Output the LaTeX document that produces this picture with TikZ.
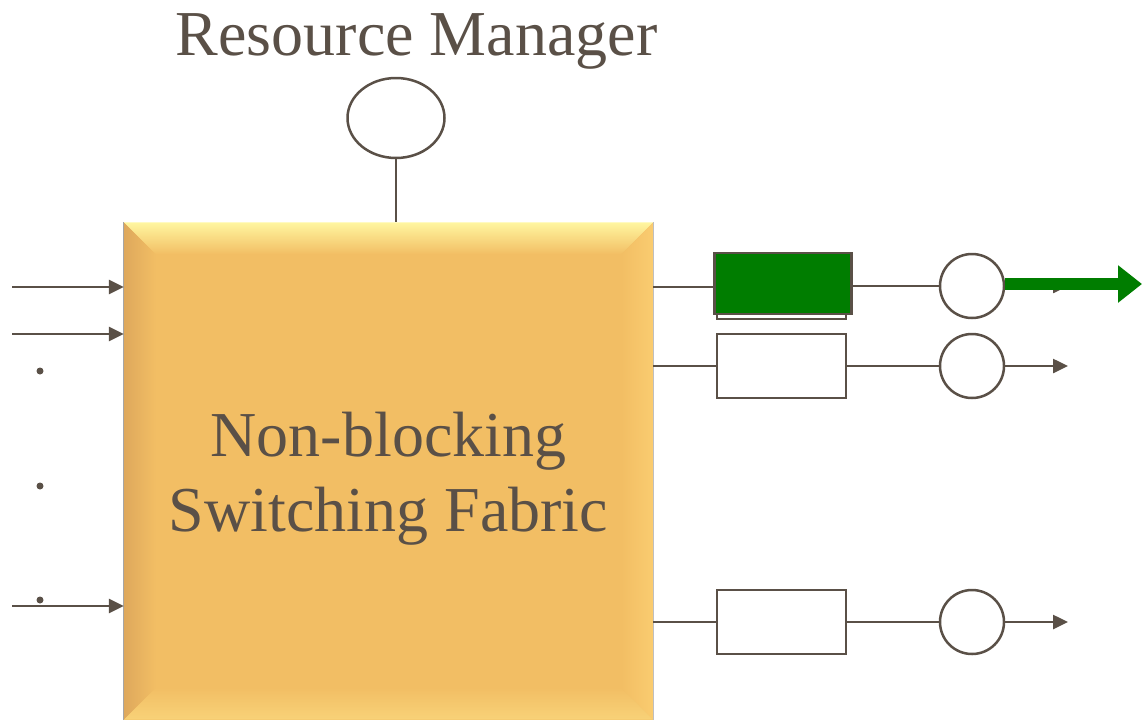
\documentclass[tikz,border=0pt]{standalone}
\usepackage{fontspec}
\setmainfont{Liberation Serif}
\usetikzlibrary{shapes.geometric,arrows.meta}
\definecolor{ink}{RGB}{90,80,71}
\definecolor{fab}{RGB}{242,190,100}
\definecolor{fabtop}{RGB}{255,246,160}
\definecolor{fableft}{RGB}{222,168,92}
\definecolor{fabright}{RGB}{250,204,112}
\definecolor{fabbot}{RGB}{248,210,120}
\definecolor{qgreen}{RGB}{0,125,0}
\tikzset{
  wire/.style={draw=ink, line width=2.5pt},
  arr/.style={wire, -{Triangle[length=15pt,width=14pt]}},
  queue/.style={draw=ink, line width=2.5pt, fill=white, rectangle, minimum width=129pt, minimum height=64pt, inner sep=0pt},
  server/.style={draw=ink, line width=2.5pt, fill=white, circle, minimum size=64pt, inner sep=0pt},
  dotn/.style={circle, fill=ink, minimum size=7pt, inner sep=0pt},
  bigtext/.style={text=ink, font=\fontsize{64}{75}\selectfont, align=center}
}
\begin{document}
\begin{tikzpicture}[x=1pt,y=-1pt]
\useasboundingbox (0,0) rectangle (1142,720);
% switching fabric
\node[rectangle, fill=fab, minimum width=529pt, minimum height=497pt, inner sep=0pt] (box) at (388.5,471) {};
\def\bw{32}
\shade[top color=fabtop, bottom color=fab] (box.north west) -- (box.north east) -- ([xshift=-\bw pt,yshift=-\bw pt]box.north east) -- ([xshift=\bw pt,yshift=-\bw pt]box.north west) -- cycle;
\shade[left color=fableft, right color=fab] (box.north west) -- ([xshift=\bw pt,yshift=-\bw pt]box.north west) -- ([xshift=\bw pt,yshift=\bw pt]box.south west) -- (box.south west) -- cycle;
\shade[right color=fabright, left color=fab] (box.north east) -- ([xshift=-\bw pt,yshift=-\bw pt]box.north east) -- ([xshift=-\bw pt,yshift=\bw pt]box.south east) -- (box.south east) -- cycle;
\shade[bottom color=fabbot, top color=fab] (box.south west) -- ([xshift=\bw pt,yshift=\bw pt]box.south west) -- ([xshift=-\bw pt,yshift=\bw pt]box.south east) -- (box.south east) -- cycle;
\draw[black!35, line width=0.8pt] (box.north west) -- (box.south west);
\draw[black!25, line width=0.8pt] (box.north east) -- (box.south east);
\node[bigtext] (fabtext) at (388.5,479) {Non-blocking\\Switching Fabric};
% resource manager
\node[bigtext, anchor=base] (rmtext) at (416.5,55) {Resource Manager};
\node[ellipse, draw=ink, line width=2.5pt, fill=white, minimum width=97pt, minimum height=80pt, inner sep=0pt] (rm) at (396,118) {};
\draw[wire] (rm.south) -- (rm.south |- box.north);
% inputs
\coordinate (in1) at (12,287);
\coordinate (in2) at (12,334);
\coordinate (in3) at (12,606);
\draw[arr] (in1) -- (in1 -| box.west);
\draw[arr] (in2) -- (in2 -| box.west);
\draw[arr] (in3) -- (in3 -| box.west);
\node[dotn] (d1) at (40,371) {};
\node[dotn] (d2) at (40,486) {};
\node[dotn] (d3) at (40,600) {};
% outputs
\node[queue] (q1b) at (781.5,287) {};
\node[queue, fill=qgreen, minimum width=137pt, minimum height=61pt] (q1) at (783,283.5) {};
\node[queue] (q2) at (781.5,366) {};
\node[queue] (q3) at (781.5,622) {};
\node[server] (s1) at (972,286) {};
\node[server] (s2) at (972,366) {};
\node[server] (s3) at (972,622) {};
\coordinate (o1) at (1068,286);
\coordinate (o2) at (1068,366);
\coordinate (o3) at (1068,622);
\coordinate (g1) at (1142,284);
\draw[wire] (box.east |- q1b) -- (q1.west |- q1b);
\draw[wire] (q1.east |- s1) -- (s1.west);
\draw[arr] (s1.east) -- (o1);
\draw[qgreen, line width=12pt, -{Triangle[length=24pt,width=36pt]}] (s1.east |- g1) -- (g1);
\draw[wire] (box.east |- q2) -- (q2.west);
\draw[wire] (q2.east) -- (s2.west);
\draw[arr] (s2.east) -- (o2);
\draw[wire] (box.east |- q3) -- (q3.west);
\draw[wire] (q3.east) -- (s3.west);
\draw[arr] (s3.east) -- (o3);
\end{tikzpicture}
\end{document}
